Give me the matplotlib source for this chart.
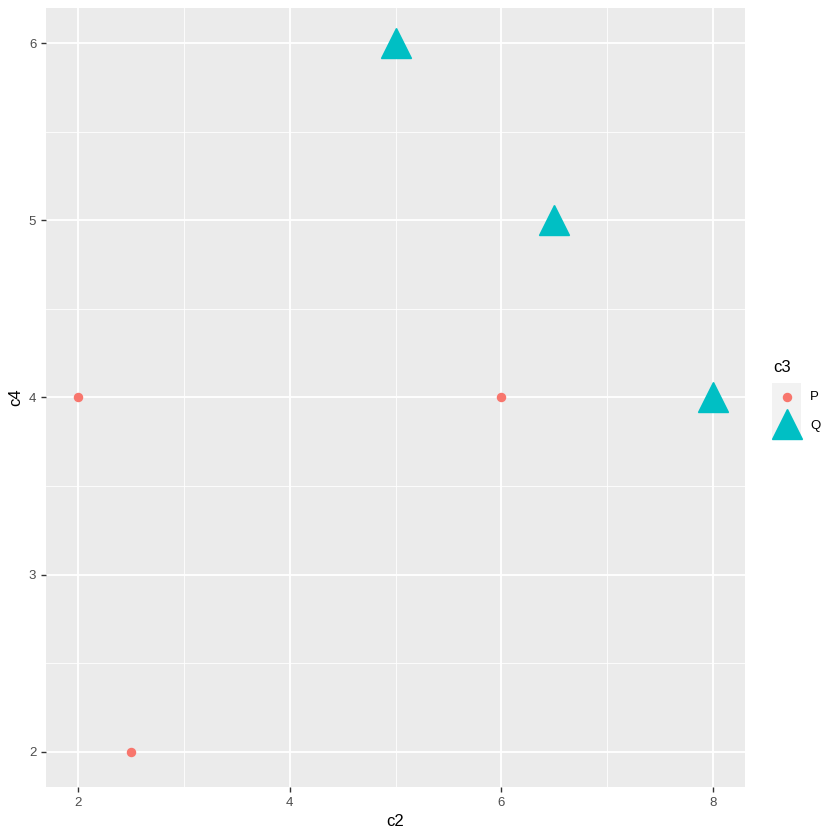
import matplotlib.pyplot as plt

plt.rcParams['font.family'] = ['Liberation Sans', 'DejaVu Sans']

# data
p_x = [2, 2.5, 6]
p_y = [4, 2, 4]
q_x = [5, 6.5, 8]
q_y = [6, 5, 4]
groups = ['P', 'Q']
colors = ['#F8766D', '#00BFC4']

fig = plt.figure(figsize=(8.4, 8.4), dpi=100)
ax = fig.add_axes([46 / 840, 53 / 840, 699 / 840, 779 / 840])
ax.set_facecolor('#EBEBEB')

ax.set_xlim(1.7, 8.3)
ax.set_ylim(1.8, 6.2)
ax.set_xticks([2, 4, 6, 8])
ax.set_xticks([3, 5, 7], minor=True)
ax.set_yticks([2, 3, 4, 5, 6])
ax.set_yticks([2.5, 3.5, 4.5, 5.5], minor=True)
ax.grid(which='major', color='white', linewidth=1.3)
ax.grid(which='minor', color='white', linewidth=0.6)
ax.set_axisbelow(True)
for s in ax.spines.values():
    s.set_visible(False)
ax.tick_params(which='major', length=3.5, color='#333333', labelcolor='#4D4D4D',
               labelsize=9.5, width=1)
ax.tick_params(which='minor', length=0)

ax.plot(p_x, p_y, 'o', color=colors[0], markersize=5.8, linestyle='none')
ax.plot(q_x, q_y, '^', color=colors[1], markersize=21, linestyle='none')

ax.set_xlabel('c2', fontsize=12, labelpad=4)
ax.set_ylabel('c4', fontsize=12, labelpad=4)

# legend like ggplot
fig.text(773 / 840, 1 - 368 / 840, 'c3', fontsize=12, va='center', ha='left')
key = fig.add_axes([772 / 840, 1 - 440 / 840, 29 / 840, 57 / 840])
key.set_facecolor('#F2F2F2')
key.set_xlim(0, 1)
key.set_ylim(0, 2)
key.set_xticks([])
key.set_yticks([])
for s in key.spines.values():
    s.set_visible(False)
key.plot([0.5], [1.5], 'o', color=colors[0], markersize=5.8)
key.plot([0.5], [0.55], '^', color=colors[1], markersize=21, clip_on=False)
fig.text(810 / 840, 1 - 397 / 840, groups[0], fontsize=9.5, va='center', ha='left')
fig.text(810 / 840, 1 - 426 / 840, groups[1], fontsize=9.5, va='center', ha='left')

fig.savefig('out.png', dpi=100)
